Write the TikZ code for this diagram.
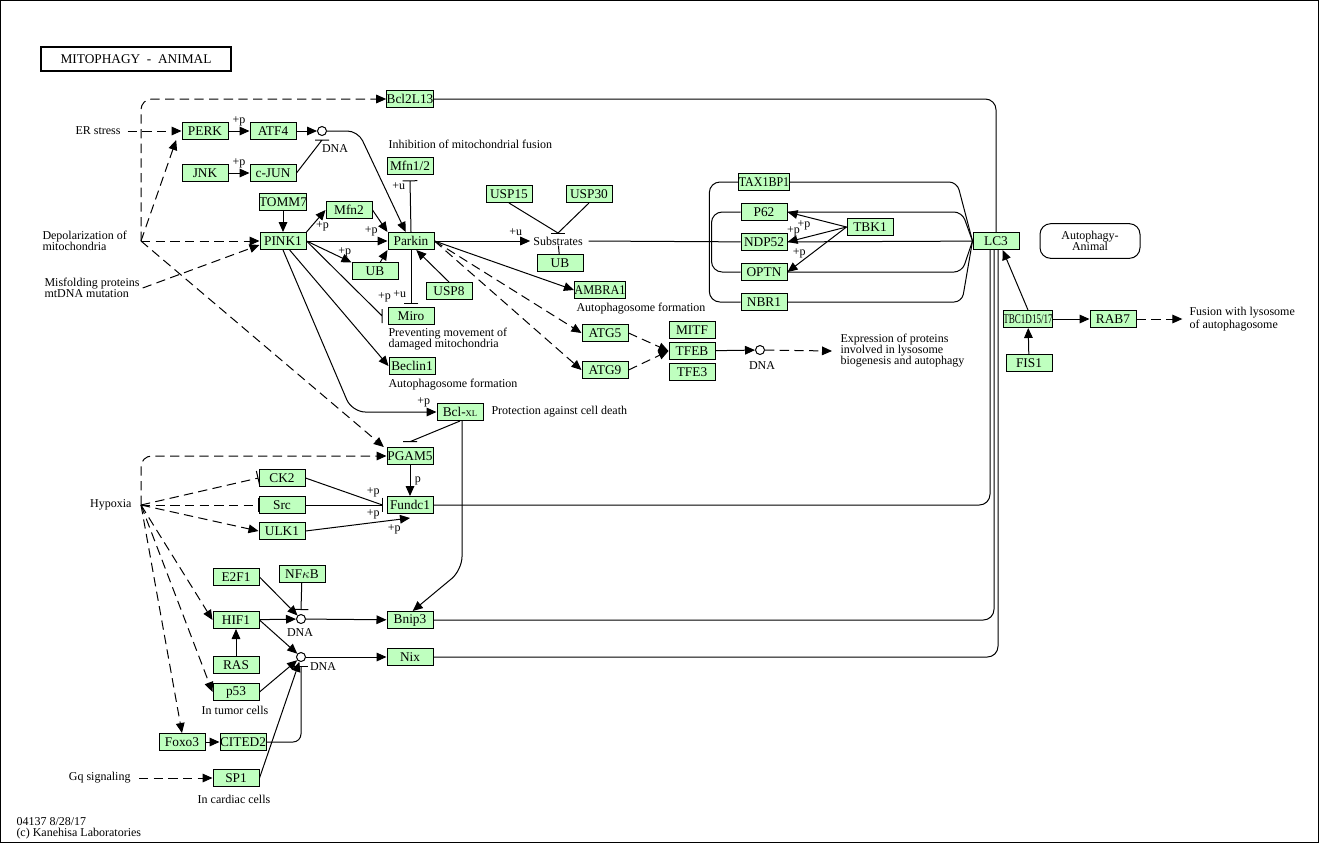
\documentclass[tikz,border=0pt]{standalone}
\usepackage{fontspec}
\setmainfont{Liberation Serif}
\usepackage{graphicx}
\usetikzlibrary{arrows.meta}
\definecolor{keggreen}{HTML}{BFFFBF}
\newcommand{\kfont}{\fontsize{9}{8.25}\selectfont}
\newcommand{\kgsq}[2][0.85]{\scalebox{#1}[1]{#2}}

\begin{document}
\begin{tikzpicture}[x=0.75pt, y=-0.75pt, line width=0.75pt,
    every node/.append style={font=\kfont},
    gene/.style={draw, fill=keggreen, minimum width=34.5pt,
      minimum height=12.75pt, inner sep=0pt},
    txt/.style={inner sep=0pt, align=left},
    dna/.style={circle, draw, fill=white, minimum size=6.75pt, inner sep=0pt},
    act/.style={-{Triangle[length=7.5pt,width=6.5pt]}},
    inh/.style={-{Bar[width=11pt]}},
    dsh/.style={dash pattern=on 7pt off 4pt}]
  \useasboundingbox (0,0) rectangle (1320,844);
  \draw (0.5,0.5) rectangle (1318.5,842.5);

  \node [draw, line width=1.5pt, minimum width=142.5pt, minimum height=18pt,
    font=\fontsize{10}{10}\selectfont] (title) at (136,59) {MITOPHAGY\ \ -\ \ ANIMAL};

  % genes
  \begin{scope}[every node/.style={gene}]
    \node (bcl2l13) at (410,99) {Bcl2L13};
    \node (perk) at (205,131) {PERK}; \node (atf4) at (273,131) {ATF4};
    \node (jnk) at (205,173) {JNK}; \node (cjun) at (273,173) {c-JUN};
    \node (mfn12) at (410,166) {Mfn1/2};
    \node (tomm7) at (283,202) {TOMM7};
    \node (mfn2) at (349,210) {Mfn2};
    \node (pink1) at (283,241) {PINK1};
    \node (parkin) at (411,241) {Parkin};
    \node (ub1) at (375,271) {UB};
    \node (usp8) at (449,291) {USP8};
    \node (miro) at (411,316) {Miro};
    \node (beclin1) at (412,366) {Beclin1};
    \node (bclxl) at (460,412) {Bcl-{\fontsize{6.5}{7}\selectfont XL}};
    \node (usp15) at (509,194) {USP15}; \node (usp30) at (589,194) {USP30};
    \node (ub2) at (560,263) {UB};
    \node (ambra1) at (600,290) {\kgsq[0.92]{AMBRA1}};
    \node (atg5) at (605,333) {ATG5}; \node (atg9) at (605,370) {ATG9};
    \node (mitf) at (692,330) {MITF}; \node (tfeb) at (692,351) {TFEB};
    \node (tfe3) at (692,372) {TFE3};
    \node (tax1bp1) at (764,182) {\kgsq[0.9]{TAX1BP1}};
    \node (p62) at (764,212) {P62};
    \node (ndp52) at (764,242) {NDP52};
    \node (optn) at (764,272) {OPTN};
    \node (nbr1) at (764,302) {NBR1};
    \node (tbk1) at (870,227) {TBK1};
    \node (lc3) at (996,241) {LC3};
    \node (tbc) at (1028,319) {\kgsq[0.68]{TBC1D15/17}};
    \node (fis1) at (1029,363) {FIS1};
    \node (rab7) at (1113,319) {RAB7};
    \node (pgam5) at (410,456) {PGAM5};
    \node (ck2) at (282,478) {CK2}; \node (src) at (282,505) {Src};
    \node (ulk1) at (282,531) {ULK1};
    \node (fundc1) at (410,505) {Fundc1};
    \node (e2f1) at (236,577) {E2F1}; \node (nfkb) at (302,574) {NF$\kappa$B};
    \node (hif1) at (236,620) {HIF1}; \node (ras) at (236,665) {RAS};
    \node (p53) at (236,692) {p53};
    \node (foxo3) at (182,742) {Foxo3}; \node (cited2) at (243,742) {CITED2};
    \node (sp1) at (236,778) {SP1};
    \node (bnip3) at (410,620) {Bnip3}; \node (nix) at (410,657) {Nix};
  \end{scope}

  % DNA sites
  \node [dna] (dna1) at (322,131) {}; \node [txt] at (335,149) {DNA};
  \node [dna] (dna2) at (301,619) {}; \node [txt] at (300,633) {DNA};
  \node [dna] (dna3) at (301,657) {}; \node [txt] at (323,667) {DNA};
  \node [dna] (dna4) at (760,350) {}; \node [txt] at (762,366) {DNA};

  % texts
  \node [txt, anchor=east] (erstress) at (121,131) {ER stress};
  \node [txt, anchor=west] (depol) at (42,241) {Depolarization of\\mitochondria};
  \coordinate (dep) at (141,241);
  \node [txt, anchor=west] (misfold) at (44,288) {Misfolding proteins\\mtDNA mutation};
  \node [txt, anchor=east] (hypoxia) at (132,505) {Hypoxia};
  \coordinate (hyp) at (141,505);
  \node [txt, anchor=east] (gq) at (131,778) {Gq signaling};
  \node [txt, anchor=west] (inhfus) at (388,144) {Inhibition of mitochondrial fusion};
  \node [txt, anchor=west] (prevmov) at (388,339.5) {Preventing movement of\\damaged mitochondria};
  \node [txt, anchor=west] (autof1) at (388,385) {Autophagosome formation};
  \node [txt, anchor=west] (autof2) at (576,309) {Autophagosome formation};
  \node [txt, anchor=west] (protect) at (491,412) {Protection against cell death};
  \node [txt] (subs) at (558,241) {Substrates};
  \node [txt, anchor=west] (expr) at (840,351) {Expression of proteins\\involved in lysosome\\biogenesis and autophagy};
  \node [txt, anchor=west] (fusion) at (1189,319) {Fusion with lysosome\\of autophagosome};
  \node [txt] (tumor) at (235,710) {In tumor cells};
  \node [txt] (cardiac) at (234,799) {In cardiac cells};
  \node [draw, rounded corners=8pt, minimum width=75pt, minimum height=26pt,
    align=center, inner sep=0pt] (autoanimal) at (1090,241) {Autophagy-\\Animal};
  \node [txt, anchor=west] (footer) at (16,828) {04137 8/28/17\\(c) Kanehisa Laboratories};

  % upstream signals
  \begin{scope}[act, dsh]
    \draw ([xshift=5pt]erstress.east) -- (perk);
    \draw [rounded corners=8pt] (dep) |- (bcl2l13);
    \draw (dep) -- ([xshift=-4pt]perk.south west);
    \draw (dep) -- (pink1);
    \draw (dep) -- ([xshift=-2pt]pgam5.north west);
    \draw ([xshift=2pt]misfold.east) -- ([yshift=-3pt]pink1.west);
    \draw [rounded corners=8pt] (hyp) |- (pgam5);
    \draw (hyp) -- (ulk1.west);
    \draw (hyp) -- (hif1.west);
    \draw (hyp) -- (p53.west);
    \draw (hyp) -- (foxo3.north);
    \draw ([xshift=6pt]gq.east) -- (sp1);
    \draw (parkin.east) -- (atg5.west);
    \draw (parkin.east) -- (atg9.west);
    \draw (atg5.east) -- (tfeb.west);
    \draw (atg9.east) -- (tfeb.west);
    \draw (dna4) -- ([xshift=-6pt]expr.west);
    \draw (rab7) -- ([xshift=-5pt]fusion.west);
  \end{scope}
  \draw [inh, dsh] (hyp) -- (ck2.west);
  \draw [inh, dsh] (hyp) -- (src.west);

  % PINK1 / Parkin
  \begin{scope}[act]
    \draw (perk) -- node[above] {+p} (atf4);
    \draw (atf4) -- (dna1);
    \draw (jnk) -- node[above] {+p} (cjun);
    \draw [rounded corners=8pt] (dna1.east) -- (358,131) -- ([xshift=-4pt]parkin.north);
    \draw (tomm7) -- (pink1);
    \draw (pink1.north east) -- node[right, pos=0.25] {+p} (mfn2.west);
    \draw (pink1) -- node[above, pos=0.8] {+p} (parkin);
    \draw (pink1.east) -- node[above, pos=0.85, inner sep=1.5pt] {+p} (ub1.160);
    \draw (mfn2.east) -- (parkin.north west);
    \draw ([xshift=4pt]ub1.north) -- (parkin.south west);
    \draw (usp8.north) -- ([xshift=4pt]parkin.south);
    \draw ([xshift=5pt]pink1.south) -- (beclin1.west);
    \draw [rounded corners=10pt] (pink1.south) -- (352,412) -- node[above, pos=0.85] {+p} (bclxl.west);
    \draw (parkin) -- node[above, pos=0.85] {+u} ([xshift=-2pt]subs.west);
    \draw (parkin.east) -- (ambra1.west);
    \draw (tfeb) -- (dna4);
  \end{scope}
  \draw (cjun.east) -- ([yshift=-3pt]dna1.south) +(-7,0) -- +(7,0);
  \draw (pink1.east) -- node[above right, pos=0.88] {+p} ([xshift=-4pt]miro.west) +(0,-7) -- +(0,7);
  \draw [inh] (parkin.north) -- node[left, pos=0.88] {+u} ([yshift=-4pt]mfn12.south);
  \draw [inh] (parkin.south) -- node[left, pos=0.82] {+u} ([yshift=2pt]miro.north);

  % substrates
  \coordinate (sbar) at (558,233);
  \draw (usp15.south) -- (sbar) (usp30.south) -- (sbar);
  \draw (sbar) +(-7,0) -- +(7,0);
  \draw (ub2) -- (subs);
  \draw ([xshift=4pt]subs.east) -- (ndp52);

  % receptors and LC3
  \draw [rounded corners=8pt] (tax1bp1.west) -- ++(-29,0) |- (nbr1.west);
  \draw [rounded corners=8pt] (p62.west) -- ++(-29,0) |- (optn.west);
  \draw [rounded corners=6pt] (tax1bp1.east) -- (957,182) -- (lc3.west);
  \draw [rounded corners=6pt] (p62.east) -- (962,212) -- (lc3.west);
  \draw (ndp52) -- (lc3);
  \draw [rounded corners=6pt] (optn.east) -- (962,272) -- (lc3.west);
  \draw [rounded corners=6pt] (nbr1.east) -- (962,302) -- (lc3.west);
  \begin{scope}[act]
    \draw (tbk1.west) -- node[below, pos=0.72] {+p} (p62.east);
    \draw (tbk1.west) -- node[above, pos=0.9] {+p} (ndp52.east);
    \draw (tbk1.west) -- node[above, pos=0.8] {+p} (optn.east);
    \draw (tbc.north) -- ([xshift=5pt]lc3.south);
    \draw (fis1) -- (tbc);
    \draw (tbc) -- (rab7);
  \end{scope}
  \draw [rounded corners=8pt] (bcl2l13) -| (lc3);
  \draw [rounded corners=8pt] (fundc1) -| ([xshift=-4.5pt]lc3.south);
  \draw [rounded corners=8pt] (bnip3) -| ([xshift=-1.5pt]lc3.south);
  \draw [rounded corners=8pt] (nix) -| ([xshift=1.5pt]lc3.south);

  % hypoxia
  \draw [act] (pgam5) -- node[right] {p} (fundc1);
  \draw (ck2.east) -- node[above, pos=0.88] {+p} ([xshift=-3pt]fundc1.west);
  \draw [inh] (src.east) -- node[below, pos=0.88] {+p} ([xshift=-3pt]fundc1.west);
  \draw [act] (ulk1.east) -- node[below, pos=0.85] {+p} ([yshift=-3pt]fundc1.south);
  \draw (bclxl.south) -- ([yshift=4pt]pgam5.north) +(-7,0) -- +(7,0);
  \draw [act, rounded corners=10pt] ([xshift=1.5pt]bclxl.south) -- (462,570) -- ([xshift=2pt]bnip3.north);

  % transcription
  \begin{scope}[act]
    \draw (e2f1.east) -- (dna2);
    \draw (hif1) -- (dna2);
    \draw (hif1.east) -- (dna3);
    \draw (ras) -- (hif1);
    \draw (p53.east) -- (dna3);
    \draw (sp1.east) -- (dna3);
    \draw (foxo3) -- (cited2);
    \draw (dna2) -- (bnip3);
    \draw (dna3) -- (nix);
  \end{scope}
  \draw [inh] (nfkb) -- ([yshift=3pt]dna2.north);
  \draw [inh, rounded corners=6pt] (cited2.east) -| ([yshift=-3pt]dna3.south);
\end{tikzpicture}
\end{document}
